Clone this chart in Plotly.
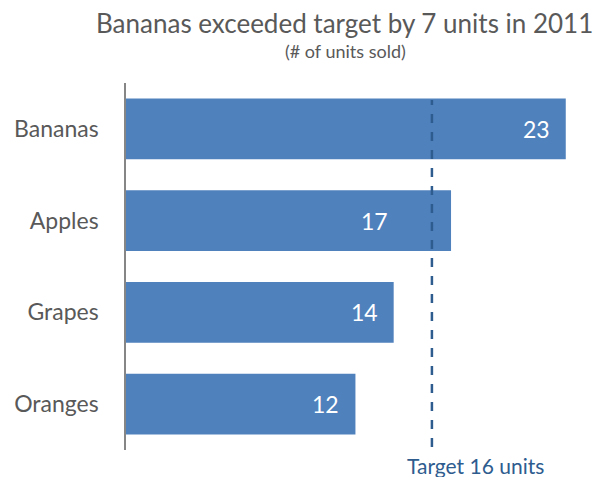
import plotly.graph_objects as go

# Units sold per fruit in 2011, top to bottom
fruits = ["Bananas", "Apples", "Grapes", "Oranges"]
units_sold = [23, 17, 14, 12]
target_units = 16

BAR_COLOR = "#4F81BD"
TARGET_COLOR = "#2E5C8F"
TEXT_GRAY = "#595959"
FONT = "Lato"

fig = go.Figure()

fig.add_trace(go.Bar(
    y=fruits,
    x=units_sold,
    orientation="h",
    marker=dict(color=BAR_COLOR, line=dict(width=0)),
    width=0.66,
    hoverinfo="x+y",
))

# Value labels just inside the end of each bar; a label that would sit on the
# target line is moved to the left of the line instead
for fruit, val in zip(fruits, units_sold):
    if target_units <= val < target_units + 2.5:
        anchor_x, shift = target_units, -42
    else:
        anchor_x, shift = val, -14
    fig.add_annotation(
        x=anchor_x, y=fruit, xref="x", yref="y",
        text=str(val), showarrow=False,
        xanchor="right", xshift=shift,
        font=dict(family=FONT, size=23, color="white"),
    )

# Dashed target line with its label underneath
fig.add_shape(
    type="line", xref="x", yref="paper",
    x0=target_units, x1=target_units, y0=0.008, y1=0.954,
    line=dict(color=TARGET_COLOR, width=2.5, dash="dash"),
)
fig.add_annotation(
    x=target_units, y=0, xref="x", yref="paper",
    text=f"Target {target_units} units", showarrow=False,
    xanchor="left", yanchor="top", xshift=-27, yshift=-1,
    font=dict(family=FONT, size=21, color=TARGET_COLOR),
)

# Title and subtitle
fig.add_annotation(
    x=344, y=23, xref="paper", yref="paper", text="Bananas exceeded target by 7 units in 2011",
    showarrow=False, xanchor="center", yanchor="middle",
    font=dict(family=FONT, size=26, color=TEXT_GRAY),
)
fig.add_annotation(
    x=345, y=51, xref="paper", yref="paper", text="(# of units sold)",
    showarrow=False, xanchor="center", yanchor="middle",
    font=dict(family=FONT, size=18, color=TEXT_GRAY),
)

fig.update_layout(
    width=607, height=477,
    margin=dict(l=126, r=3, t=83, b=27),
    paper_bgcolor="white", plot_bgcolor="white",
    showlegend=False,
    font=dict(family=FONT, color=TEXT_GRAY),
    xaxis=dict(range=[0, 25], visible=False, fixedrange=True),
    yaxis=dict(
        categoryorder="array", categoryarray=fruits[::-1],
        showline=True, linecolor="#868686", linewidth=1.5,
        ticks="", showgrid=False, zeroline=False,
        tickfont=dict(family=FONT, size=23, color=TEXT_GRAY),
        ticklabelstandoff=21, fixedrange=True,
    ),
)

# Title positions are given in pixels; convert to paper coordinates
plot_w = 607 - 126 - 3
plot_h = 477 - 83 - 27
for ann in fig.layout.annotations[-2:]:
    ann.x = (ann.x - 126) / plot_w
    ann.y = (477 - 27 - ann.y) / plot_h

fig.write_html("out.html")
